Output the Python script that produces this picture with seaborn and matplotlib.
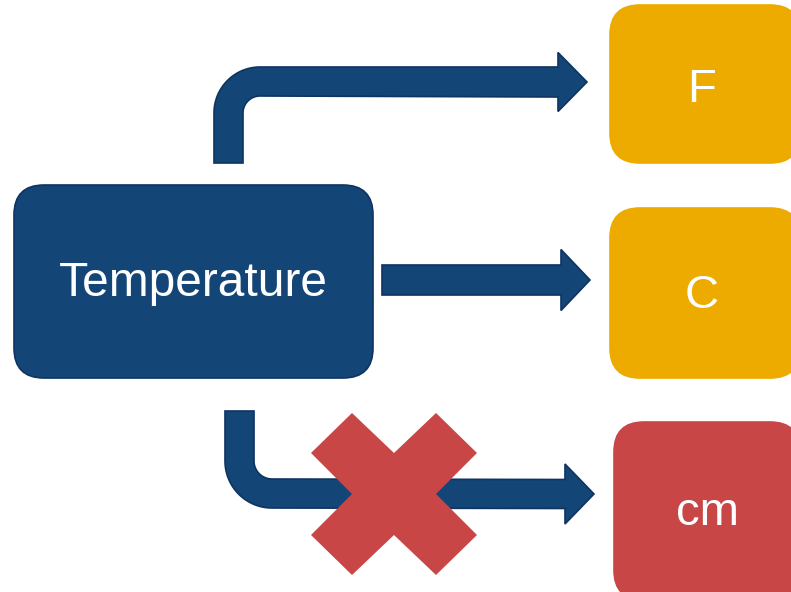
import numpy as np
import matplotlib
matplotlib.use("Agg")
import matplotlib.pyplot as plt
from matplotlib.patches import FancyBboxPatch, Polygon
import seaborn as sns

sns.set_theme(style="white")
plt.rcParams['font.family'] = ['Liberation Sans', 'DejaVu Sans']

# diagram content
source_label = "Temperature"
target_labels = ["F", "C", "cm"]
target_valid = [True, True, False]

navy = "#134577"
navy_edge = "#0E3461"
gold = "#EDAB00"
red = "#C84646"

# boxes in pixel units (x0, y0, x1, y1), y runs downwards
source_box = (14, 185, 373, 378)
target_boxes = [(610, 5, 800, 163), (610, 208, 800, 378), (614, 422, 800, 600)]
text_pos = [(702, 90), (702, 296), (707, 513)]


def arc(cx, cy, r, a0, a1, n=30):
    t = np.radians(np.linspace(a0, a1, n))
    return list(zip(cx + r * np.cos(t), cy + r * np.sin(t)))


def head(x_shaft, y_mid, half_shaft, half_head, tip):
    return [(x_shaft, y_mid - half_shaft), (x_shaft, y_mid - half_head),
            (tip, y_mid), (x_shaft, y_mid + half_head), (x_shaft, y_mid + half_shaft)]


# top bent arrow: up then right
top_arrow = ([(214, 163)] + arc(260, 113, 46, 180, 270)
             + head(558, 82, 15, 29.5, 587)
             + arc(260, 113, 17, 270, 180) + [(243, 163)])
# middle straight arrow
mid_arrow = [(382, 265)] + head(561, 280, 15, 30.5, 590) + [(382, 295)]
# bottom bent arrow: down then right
bot_arrow = ([(225, 411)] + arc(272, 461, 47, 180, 90)
             + head(565, 494, 14.5, 30, 594)[::-1]
             + arc(272, 461, 18, 90, 180) + [(254, 411)])

# red cross over the invalid arrow
cx, cy = 394, 494
cross_pts = [(-42, -81), (0, -41), (42, -81), (83, -41), (42, 0), (83, 41),
             (42, 81), (0, 41), (-42, 81), (-83, 41), (-42, 0), (-83, -41)]

fig = plt.figure(figsize=(7.91, 5.92), dpi=100)
ax = fig.add_axes([0, 0, 1, 1])
ax.set_xlim(0, 791)
ax.set_ylim(592, 0)
ax.axis("off")


def rbox(b, color, edge, r):
    x0, y0, x1, y1 = b
    p = FancyBboxPatch((x0 + r, y0 + r), x1 - x0 - 2 * r, y1 - y0 - 2 * r,
                       boxstyle=f"round,pad={r}", fc=color, ec=edge, lw=1.2)
    ax.add_patch(p)


for pts in (top_arrow, mid_arrow, bot_arrow):
    ax.add_patch(Polygon(pts, closed=True, fc=navy, ec=navy_edge, lw=1.2))

rbox(source_box, navy, navy_edge, 30)
ax.text((source_box[0] + source_box[2]) / 2, 284, source_label,
        color="white", fontsize=34.5, ha="center", va="center")

for b, lab, ok, (tx, ty) in zip(target_boxes, target_labels, target_valid, text_pos):
    c = gold if ok else red
    rbox(b, c, c, 30)
    ax.text(tx, ty, lab, color="white", fontsize=34, ha="center", va="center")

ax.add_patch(Polygon([(cx + dx, cy + dy) for dx, dy in cross_pts],
                     closed=True, fc=red, ec="none"))

fig.savefig("out.png", dpi=100)
